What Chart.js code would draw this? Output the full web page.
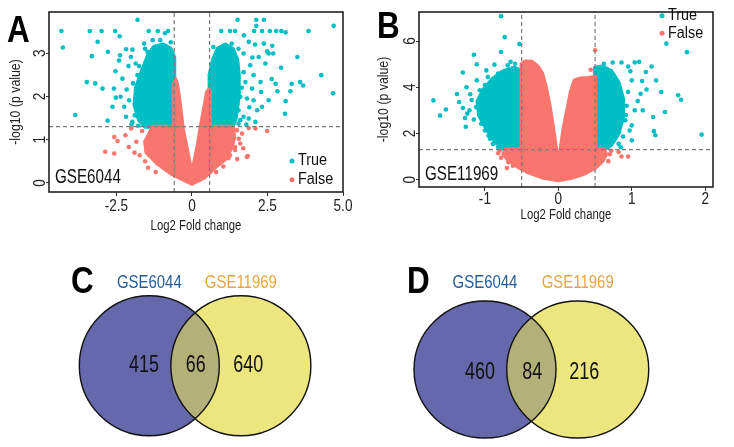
<!DOCTYPE html>
<html>
<head>
<meta charset="utf-8">
<script src="https://cdn.jsdelivr.net/npm/chart.js@4.4.1/dist/chart.umd.min.js"></script>
<style>
  html, body { margin: 0; padding: 0; background: #fff; }
  #fig { position: relative; width: 734px; height: 447px; overflow: hidden; }
  #fig canvas { position: absolute; }
</style>
</head>
<body>
<div id="fig">
  <canvas id="panelA" width="367" height="235" style="left:0;top:0"></canvas>
  <canvas id="panelB" width="364" height="235" style="left:370px;top:0"></canvas>
  <canvas id="panelC" width="367" height="207" style="left:0;top:240px"></canvas>
  <canvas id="panelD" width="367" height="207" style="left:367px;top:240px"></canvas>
</div>
<script>
// ---- data: volcano A (GSE6044) ----
const aXTicks = [-2.5, 0, 2.5, 5];
const aXTickLabels = ['-2.5', '0', '2.5', '5.0'];
const aYTicks = [0, 1, 2, 3];
const aFcCut = 0.585;
const pCut = 1.301;

// outlines of the solid, overplotted parts of each cloud
const aTrueCloudLeft = [[-0.585,1.3],[-0.585,2.9],[-0.7,3.1],[-0.95,3.2],[-1.25,3.15],[-1.45,2.95],[-1.65,2.6],[-1.85,2.2],[-1.9,1.8],[-1.75,1.45],[-1.55,1.3]];
const aTrueCloudRight = [[0.585,1.3],[0.585,2.5],[0.7,2.85],[0.85,3.1],[1.1,3.2],[1.35,3.1],[1.5,2.85],[1.55,2.5],[1.55,2.0],[1.45,1.5],[1.35,1.3]];
const aFalseCloud = [[0,-0.02],[-0.3,0.08],[-0.65,0.2],[-1.15,0.45],[-1.5,0.7],[-1.55,0.95],[-1.4,1.15],[-1.3,1.3],
  [-0.585,1.3],[-0.585,2.3],[-0.55,2.4],[-0.5,2.3],[-0.43,2.0],[-0.36,1.6],[-0.3,1.25],[-0.2,0.9],[-0.1,0.55],[-0.03,0.3],[0,0.22],
  [0.03,0.3],[0.1,0.55],[0.2,0.9],[0.28,1.25],[0.37,1.6],[0.45,1.9],[0.5,2.1],[0.56,2.15],[0.585,2.1],[0.585,1.3],
  [1.35,1.3],[1.4,1.05],[1.3,0.8],[1.1,0.55],[0.75,0.35],[0.4,0.12]];
const aTruePoints = [[-4.32,3.51],[-4.27,3.13],[-3.38,3.51],[-2.99,3.51],[-2.54,3.51],[-2.39,3.39],[-1.8,3.77],[-3.12,3.26],[-3.31,2.93],[-2.78,3.03],[-3.48,2.33],[-3.2,2.3],[-2.96,2.18],[-3.86,1.57],[-2.79,1.44],[-2.53,2.58],[-1.43,3.51],[-1.13,3.51],[-0.89,3.46],[-0.79,3.51],[-2.18,3.09],[-2.41,2.83],
  [-2.02,2.91],[-1.86,2.76],[-1.58,3.22],[-1.47,3.03],[-2.3,2.41],[-2.16,2.16],[-2.08,1.91],[-2.24,1.76],[-2.18,1.53],[-1.97,1.41],[-1.89,1.56],[-2.63,1.76],[-2.52,1.97],[-2.36,1.99],[-2.58,2.18],[-1.86,1.99],[-1.69,2.29],[-1.8,2.49],[-2.38,2.95],[-1.97,3.08],[-1.66,1.45],[-2.0,1.35],[-1.78,1.32],[-1.6,2.05],[-1.95,2.3],[-1.75,2.7],[-1.3,3.3],[-1.05,3.3],[-0.7,3.25],[-2.1,2.7],[-1.55,3.1],
  [0.97,3.51],[1.26,3.51],[1.43,3.51],[1.51,3.77],[2.13,3.77],[2.38,3.77],[2.13,3.63],[1.72,3.41],[2.06,3.51],[2.32,3.51],[2.58,3.51],[2.79,3.51],[2.96,3.51],[3.1,3.48],[3.86,3.51],[4.69,3.63],[3.49,2.91],[4.28,2.49],[4.67,2.07],[3.58,2.33],[3.68,2.25],[3.3,2.29],[3.26,2.12],[2.83,2.12],[3.1,1.89],[3.08,1.6],[2.54,1.91],[2.29,2.1],[2.64,2.4],[2.77,2.29],[2.16,1.68],[1.88,1.49],[2.95,2.66],[2.69,2.99],[2.49,3.04],[2.66,3.17],[2.09,3.2],
  [0.71,3.14],[0.82,2.99],[1.1,3.18],[1.32,3.22],[1.54,3.1],[1.71,2.99],[1.93,2.72],[2.04,2.49],[2.27,2.33],[1.71,2.56],[1.77,2.33],[1.99,2.18],[1.6,1.99],[1.82,1.95],[2.04,1.91],[1.54,1.68],[1.71,1.53],[1.54,1.37],[2.1,1.41],[2.32,1.76],[2.21,2.91],[2.43,2.76],[2.54,2.99],[2.38,3.22],[1.88,3.26],[1.65,2.2],[1.9,1.75],[2.0,2.9],[1.6,1.45],[1.8,1.35]];
const aFalsePoints = [[-2.57,1.06],[-2.46,0.97],[-2.87,0.72],[-2.57,0.68],[-2.09,0.83],[-1.73,0.64],[-1.84,0.95],[-2.01,1.26],[-2.2,1.1],[-1.65,1.2],[-1.55,0.5],[-1.5,0.75],[-1.45,0.35],[-1.2,0.25],[-1.9,0.7],
  [1.82,0.6],[2.1,1.26],[2.49,1.2],[1.43,0.83],[1.55,1.02],[1.88,1.27],[1.26,0.64],[1.85,0.62],[1.6,0.91],[1.43,0.76],[1.21,0.57],[1.04,0.38],[1.66,1.14],[1.49,1.22],[1.7,0.8],[1.5,0.55],[0.8,0.25]];

// ---- data: volcano B (GSE11969) ----
const bXTicks = [-1, 0, 1, 2];
const bXTickLabels = ['-1', '0', '1', '2'];
const bYTicks = [0, 2, 4, 6];
const bFcCut = 0.5;

const bTrueCloudLeft = [[-0.5,1.3],[-0.5,4.7],[-0.6,4.85],[-0.75,4.7],[-0.9,4.35],[-1.02,3.9],[-1.1,3.4],[-1.08,2.8],[-0.98,2.2],[-0.85,1.6],[-0.72,1.3]];
const bTrueCloudRight = [[0.5,1.3],[0.5,4.85],[0.6,4.9],[0.72,4.7],[0.82,4.2],[0.88,3.5],[0.88,2.7],[0.82,2.0],[0.72,1.5],[0.62,1.3]];
const bFalseCloud = [[0,-0.03],[-0.2,0.08],[-0.4,0.3],[-0.55,0.55],[-0.68,0.85],[-0.75,1.1],[-0.72,1.3],[-0.5,1.3],[-0.5,5.0],[-0.45,5.12],[-0.36,5.1],[-0.28,4.9],[-0.22,4.6],[-0.17,4.0],[-0.12,3.2],[-0.07,2.2],[-0.03,1.3],[0,0.7],
  [0.03,1.3],[0.07,2.2],[0.12,3.0],[0.17,3.8],[0.22,4.3],[0.3,4.38],[0.4,4.4],[0.5,4.45],[0.5,1.3],[0.62,1.3],[0.65,1.1],[0.6,0.8],[0.5,0.5],[0.35,0.25],[0.18,0.08]];
const bTruePoints = [[-0.78,7.08],[-0.73,6.17],[-0.53,5.87],[-0.78,5.53],[-1.15,5.41],[-1.11,5.0],[-1.3,4.64],[-1.7,3.43],[-1.61,2.77],[-1.53,3.04],[-1.38,3.71],[-1.35,3.36],[-1.27,2.67],[-1.26,2.29],[-1.11,4.3],[-0.98,4.73],[-0.87,4.98],
  [-1.18,3.45],[-1.21,3.0],[-1.07,3.87],[-1.02,3.0],[-1.05,2.42],[-1.0,2.13],[-0.93,1.77],[-0.89,1.55],[-0.82,1.41],[-1.12,3.14],[-1.24,2.86],[-0.96,4.44],[-0.82,4.59],[-0.69,4.95],[-0.59,5.02],[-1.2,3.7],[-1.15,2.6],[-1.3,3.1],[-0.95,1.9],[-0.78,1.35],[-1.0,4.1],[-1.25,4.0],[-0.65,5.1],
  [1.47,5.89],[1.75,5.52],[1.95,1.95],[1.29,2.71],[1.3,2.1],[1.32,1.92],[1.45,2.93],[1.63,3.65],[1.67,3.46],[1.4,3.79],[1.33,4.3],[1.27,4.9],[1.19,4.66],[1.04,5.07],[0.86,5.07],[0.74,5.07],[0.62,5.02],[0.98,4.69],[1.14,4.27],[1.12,3.72],[1.04,3.0],[1.0,2.35],[0.97,2.13],[0.88,1.87],[0.82,1.55],[0.91,2.57],[1.1,5.1],[0.95,4.9],[1.0,4.3],[1.08,3.4],[0.95,3.8],[0.93,3.2],[1.15,3.0],[1.2,3.9],[0.85,1.4],[0.92,2.8],[1.0,1.7]];
const bFalsePoints = [[-0.82,1.14],[-0.78,0.95],[-0.8,1.25],[-0.68,0.75],[-0.62,0.6],[-0.7,0.5],[0.7,1.1],[0.82,1.2],[0.86,1.0],[0.95,1.0],[0.68,0.8],[0.72,1.25],[0.5,5.6],[0.44,4.76]];

// ---- data: Venn diagrams ----
const vennSets = ['GSE6044', 'GSE11969'];
const vennCCounts = [415, 66, 640];
const vennDCounts = [460, 84, 216];

const SANS = "'Liberation Sans', Arial, Helvetica, sans-serif";
const TEAL = '#00BFC4';
const SALMON = '#F8766D';

Chart.defaults.font.family = SANS;
Chart.defaults.animation = false;

function pts(arr) {
    return arr.map(p => ({ x: p[0], y: p[1] }));
}

// the figure uses a narrow Helvetica; squeeze Liberation Sans horizontally to get it
function narrowText(ctx, text, x, y, size, o = {}) {
    ctx.save();
    ctx.translate(x, y);
    if (o.rotate) ctx.rotate(o.rotate);
    ctx.scale(o.squeeze || 0.82, 1);
    ctx.font = (o.bold ? 'bold ' : '') + size + 'px ' + SANS;
    ctx.textAlign = o.align || 'center';
    ctx.textBaseline = o.baseline || 'middle';
    ctx.fillStyle = o.color || '#222';
    ctx.fillText(text, 0, 0);
    ctx.restore();
}

const volcanoDecor = {
    id: 'volcanoDecor',
    // clouds: fill the outline made of the dataset's own points
    beforeDatasetDraw(chart, args) {
        const ds = chart.data.datasets[args.index];
        if (!ds.cloud) return;
        const { ctx, chartArea: a } = chart;
        const p = args.meta.data;
        ctx.save();
        ctx.beginPath();
        ctx.rect(a.left, a.top, a.right - a.left, a.bottom - a.top);
        ctx.clip();
        ctx.beginPath();
        p.forEach((el, i) => (i ? ctx.lineTo(el.x, el.y) : ctx.moveTo(el.x, el.y)));
        ctx.closePath();
        ctx.fillStyle = ds.cloud;
        ctx.strokeStyle = ds.cloud;
        ctx.lineWidth = 4;
        ctx.lineJoin = 'round';
        ctx.fill();
        ctx.stroke();
        ctx.restore();
        return false;
    },
    afterDraw(chart, args, o) {
        const { ctx, chartArea: a } = chart;
        const { x, y } = chart.scales;
        ctx.save();
        ctx.strokeStyle = '#222';
        ctx.lineWidth = 1.6;
        ctx.strokeRect(a.left, a.top, a.right - a.left, a.bottom - a.top);
        ctx.restore();

        o.xTicks.forEach((v, i) => narrowText(ctx, o.xTickLabels[i], x.getPixelForValue(v), o.xLabelY, 17, { squeeze: 0.8 }));
        o.yTicks.forEach(v => narrowText(ctx, String(v), a.left - 9, y.getPixelForValue(v), 17, { squeeze: 0.8, rotate: -Math.PI / 2 }));
        narrowText(ctx, 'Log2 Fold change', (a.left + a.right) / 2, o.xTitleY, 14, { squeeze: 0.81 });
        narrowText(ctx, '-log10 (p value)', o.yTitleX, (a.top + a.bottom) / 2, 15, { squeeze: 0.82, rotate: -Math.PI / 2 });

        narrowText(ctx, o.letter, o.letterAt[0], o.letterAt[1], 37, { bold: true, squeeze: 0.85, align: 'left', baseline: 'alphabetic', color: '#000' });
        narrowText(ctx, o.seriesLabel, a.left + 6, o.labelY, 20, { squeeze: 0.76, align: 'left', color: '#111' });

        o.legendItems.forEach((item, i) => {
            const ly = o.legendAt[1] + i * o.legendStep;
            ctx.save();
            ctx.fillStyle = item.color;
            ctx.beginPath();
            ctx.arc(o.legendAt[0], ly, 2.5, 0, Math.PI * 2);
            ctx.fill();
            ctx.restore();
            narrowText(ctx, item.text, o.legendAt[0] + 6, ly, 16, { squeeze: 0.9, align: 'left', color: '#111' });
        });
    }
};

function makeVolcano(id, cfg) {
    const cloud = (data, color) => ({ data: pts(data), cloud: color, pointRadius: 0, order: 3 });
    const dots = (data, color) => ({
        data: pts(data), backgroundColor: color, borderWidth: 0, pointRadius: 2.3, order: 2
    });
    const dashed = data => ({
        type: 'line', data: pts(data), borderColor: '#7a7a7a', borderWidth: 1.2,
        borderDash: [4, 3], pointRadius: 0, fill: false, order: 1
    });
    const [x0, x1] = cfg.xRange;
    const [y0, y1] = cfg.yRange;

    new Chart(document.getElementById(id), {
        type: 'scatter',
        data: {
            datasets: [
                cloud(cfg.falseCloud, SALMON),
                cloud(cfg.trueLeft, TEAL),
                cloud(cfg.trueRight, TEAL),
                dots(cfg.falsePoints, SALMON),
                dots(cfg.truePoints, TEAL),
                dashed([[-cfg.fcCut, y0], [-cfg.fcCut, y1]]),
                dashed([[cfg.fcCut, y0], [cfg.fcCut, y1]]),
                dashed([[x0, pCut], [x1, pCut]])
            ]
        },
        options: {
            responsive: false,
            layout: { padding: { top: 12, right: cfg.padRight, left: 0, bottom: 0 } },
            scales: {
                x: {
                    type: 'linear', min: x0, max: x1,
                    afterBuildTicks: s => { s.ticks = cfg.xTicks.map(v => ({ value: v })); },
                    afterFit: s => { s.height = cfg.xAxisHeight; },
                    ticks: { display: false },
                    grid: { drawOnChartArea: false, tickLength: 4, color: '#333' },
                    border: { display: false }
                },
                y: {
                    type: 'linear', min: y0, max: y1,
                    afterBuildTicks: s => { s.ticks = cfg.yTicks.map(v => ({ value: v })); },
                    afterFit: s => { s.width = 49; },
                    ticks: { display: false },
                    grid: { drawOnChartArea: false, tickLength: 3, color: '#333' },
                    border: { display: false }
                }
            },
            plugins: {
                legend: { display: false },
                tooltip: { enabled: false },
                volcanoDecor: {
                    xTicks: cfg.xTicks, xTickLabels: cfg.xTickLabels, yTicks: cfg.yTicks,
                    xLabelY: cfg.xLabelY, xTitleY: cfg.xTitleY, yTitleX: cfg.yTitleX,
                    letter: cfg.letter, letterAt: cfg.letterAt,
                    seriesLabel: cfg.seriesLabel, labelY: cfg.labelY,
                    legendAt: cfg.legendAt, legendStep: cfg.legendStep,
                    legendItems: [{ text: 'True', color: TEAL }, { text: 'False', color: SALMON }]
                }
            }
        },
        plugins: [volcanoDecor]
    });
}

makeVolcano('panelA', {
    xRange: [-4.73, 5.0], yRange: [-0.21, 3.95],
    xTicks: aXTicks, xTickLabels: aXTickLabels, yTicks: aYTicks, fcCut: aFcCut,
    falseCloud: aFalseCloud, trueLeft: aTrueCloudLeft, trueRight: aTrueCloudRight,
    falsePoints: aFalsePoints, truePoints: aTruePoints,
    padRight: 24, xAxisHeight: 43, xLabelY: 206.5, xTitleY: 226.5, yTitleX: 16,
    letter: 'A', letterAt: [7, 42], seriesLabel: 'GSE6044', labelY: 177.5,
    legendAt: [292, 161], legendStep: 18.7
});

makeVolcano('panelB', {
    xRange: [-1.897, 2.105], yRange: [-0.32, 7.26],
    xTicks: bXTicks, xTickLabels: bXTickLabels, yTicks: bYTicks, fcCut: bFcCut,
    falseCloud: bFalseCloud, trueLeft: bTrueCloudLeft, trueRight: bTrueCloudRight,
    falsePoints: bFalsePoints, truePoints: bTruePoints,
    padRight: 21, xAxisHeight: 48, xLabelY: 199, xTitleY: 215, yTitleX: 13.5,
    letter: 'B', letterAt: [7, 38], seriesLabel: 'GSE11969', labelY: 174.5,
    legendAt: [292, 15.7], legendStep: 17.6
});

// ---- Venn diagrams ----
const vennDraw = {
    id: 'vennDraw',
    beforeDatasetsDraw(chart, args, o) {
        const { ctx } = chart;
        const { x, y } = chart.scales;
        const cx = o.centers.map(c => x.getPixelForValue(c));
        const cy = y.getPixelForValue(0);
        const rx = x.getPixelForValue(1) - x.getPixelForValue(0);
        const ry = y.getPixelForValue(0) - y.getPixelForValue(1);
        const shape = i => { ctx.beginPath(); ctx.ellipse(cx[i], cy, rx, ry, 0, 0, Math.PI * 2); };
        ctx.save();
        shape(0); ctx.fillStyle = '#6569AB'; ctx.fill();
        shape(1); ctx.fillStyle = '#ECE67F'; ctx.fill();
        ctx.save();
        shape(0); ctx.clip();
        shape(1); ctx.fillStyle = '#B4B07A'; ctx.fill();
        ctx.restore();
        ctx.lineWidth = 1.4;
        ctx.strokeStyle = '#111';
        shape(0); ctx.stroke();
        shape(1); ctx.stroke();
        ctx.restore();

        const ly = y.getPixelForValue(o.labelY);
        narrowText(ctx, vennSets[0], cx[0], ly, 18, { squeeze: 0.83, color: '#1E5C9E' });
        narrowText(ctx, vennSets[1], cx[1], ly, 18, { squeeze: 0.83, color: '#E8A445' });
        narrowText(ctx, o.letter, o.letterAt[0], o.letterAt[1], 37, { bold: true, squeeze: 0.85, align: 'left', baseline: 'alphabetic', color: '#000' });
    },
    afterDatasetsDraw(chart) {
        const meta = chart.getDatasetMeta(0);
        const counts = chart.data.datasets[0].counts;
        meta.data.forEach((pt, i) => narrowText(chart.ctx, String(counts[i]), pt.x, pt.y, 23, { squeeze: 0.78, color: '#111' }));
    }
};

function makeVenn(id, cfg) {
    new Chart(document.getElementById(id), {
        type: 'scatter',
        data: {
            datasets: [{
                counts: cfg.counts,
                data: cfg.countX.map(v => ({ x: v, y: cfg.countY })),
                pointRadius: 0
            }]
        },
        options: {
            responsive: false,
            layout: { padding: 0 },
            scales: {
                x: { type: 'linear', min: cfg.xRange[0], max: cfg.xRange[1], display: false },
                y: { type: 'linear', min: cfg.yRange[0], max: cfg.yRange[1], display: false }
            },
            plugins: {
                legend: { display: false },
                tooltip: { enabled: false },
                vennDraw: {
                    centers: cfg.centers, labelY: cfg.labelY,
                    letter: cfg.letter, letterAt: cfg.letterAt
                }
            }
        },
        plugins: [vennDraw]
    });
}

makeVenn('panelC', {
    counts: vennCCounts, countX: [-0.73, 0.01, 0.76], countY: 0,
    xRange: [-2.787, 2.456], yRange: [-1.16, 1.797],
    centers: [-0.654, 0.654], labelY: 1.183,
    letter: 'C', letterAt: [71, 53]
});

makeVenn('panelD', {
    counts: vennDCounts, countX: [-0.723, 0.013, 0.746], countY: -0.05,
    xRange: [-2.315, 2.854], yRange: [-1.131, 1.891],
    centers: [-0.653, 0.653], labelY: 1.263,
    letter: 'D', letterAt: [40, 53]
});
</script>
</body>
</html>
